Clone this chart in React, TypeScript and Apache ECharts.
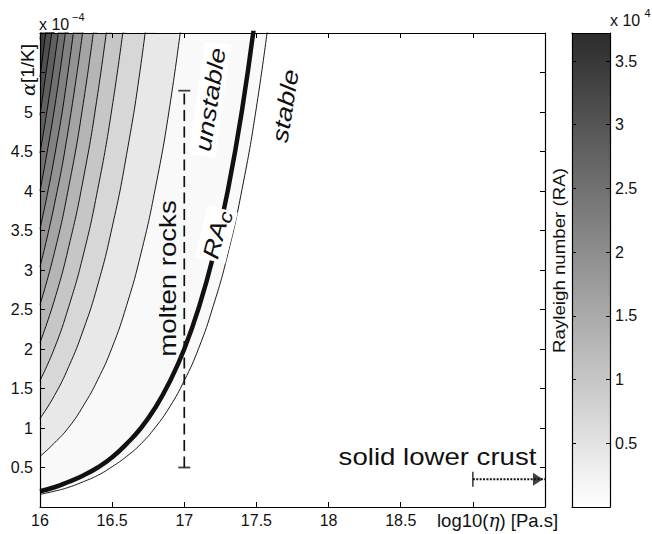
import React, { useEffect, useRef } from 'react';
import * as echarts from 'echarts';

// ---------- data ----------
// log10(viscosity) sample positions [Pa.s]
const logEta = [16.0, 16.1, 16.2, 16.3, 16.4, 16.5, 16.6, 16.7, 16.8, 16.9, 17.0, 17.1, 17.2, 17.3, 17.4, 17.5, 17.6];

// Rayleigh-number contour levels (x 10^4)
const raLevels = [0.1, 0.4, 0.7, 1.0, 1.3, 1.6, 1.9, 2.2, 2.5, 2.8, 3.1, 3.4, 3.7];

// thermal expansion alpha (x 10^-4) along each RA contour, at the logEta positions
const contour0 = [0.16, 0.20, 0.25, 0.32, 0.40, 0.51, 0.64, 0.80, 1.01, 1.27, 1.60, 2.01, 2.54, 3.19, 4.02, 5.06, 6.37];
const contour1 = [0.64, 0.81, 1.01, 1.28, 1.61, 2.02, 2.55, 3.21, 4.04, 5.08, 6.40];
const contour2 = [1.12, 1.41, 1.78, 2.24, 2.81, 3.54, 4.46, 5.61, 7.07];
const contour3 = [1.60, 2.01, 2.54, 3.19, 4.02, 5.06, 6.37];
const contour4 = [2.08, 2.62, 3.30, 4.15, 5.23, 6.58];
const contour5 = [2.56, 3.22, 4.06, 5.11, 6.43];
const contour6 = [3.04, 3.83, 4.82, 6.07];
const contour7 = [3.52, 4.43, 5.58, 7.02];
const contour8 = [4.00, 5.04, 6.34];
const contour9 = [4.48, 5.64, 7.10];
const contour10 = [4.96, 6.24];
const contour11 = [5.44, 6.85];
const contour12 = [5.92, 7.45];
const contours = [contour0, contour1, contour2, contour3, contour4, contour5, contour6, contour7, contour8, contour9, contour10, contour11, contour12];

// critical Rayleigh number curve RAc (alpha x 10^-4 at logEta positions)
const raCritical = [0.20, 0.25, 0.32, 0.40, 0.50, 0.63, 0.80, 1.00, 1.26, 1.59, 2.00, 2.52, 3.17, 3.99, 5.02, 6.32];

// "molten rocks" range bar and "solid lower crust" arrow
const moltenEta = 17;
const moltenAlpha = [0.5, 5.27];
const solidEta = [19.0, 19.5];
const solidAlpha = 0.35;

// axes
const etaMin = 16, etaMax = 19.5;
const alphaMin = 0, alphaMax = 6;
const colorbarMax = 3.72; // x 10^4
const colorbarTicks = [0.5, 1, 1.5, 2, 2.5, 3, 3.5];

// ---------- styles ----------
const FONT = '"Liberation Sans", Arial, Helvetica, sans-serif';
const INK = '#111';
const TOP_GRAY = 44;
function grayFor(v: number) {
  const g = Math.round(255 - (255 - TOP_GRAY) * v / colorbarMax);
  return `rgb(${g},${g},${g})`;
}
const deg = (d: number) => (d * Math.PI) / 180;

export default function App() {
  const ref = useRef<HTMLDivElement>(null);

  useEffect(() => {
    const chart = echarts.init(ref.current!, null, { renderer: 'svg' });

    const contourSeries = contours.map((alphas, k) => ({
      type: 'line',
      xAxisIndex: 0,
      yAxisIndex: 0,
      data: alphas.map((a, i) => [logEta[i], a]),
      smooth: 0.5,
      symbol: 'none',
      silent: true,
      lineStyle: { color: '#000', width: 0.9 },
      areaStyle: { color: grayFor(raLevels[k]), opacity: 1, origin: 'end' },
      z: 2,
    }));

    const tickStyle = { color: '#000', width: 1 };
    const lineStyle = { color: '#000', width: 1.2 };

    const option: any = {
      animation: false,
      backgroundColor: '#fff',
      grid: [
        { left: 40, top: 33, width: 505, height: 474, containLabel: false },
        { left: 572, top: 33, width: 38, height: 474, containLabel: false },
      ],
      xAxis: [
        {
          type: 'value', gridIndex: 0, position: 'bottom', min: etaMin, max: etaMax, interval: 0.5, z: 10,
          axisLine: { show: true, onZero: false, lineStyle },
          axisTick: { show: true, inside: true, length: 5, lineStyle: tickStyle },
          axisLabel: {
            show: true, fontSize: 16, fontFamily: FONT, color: INK, margin: 5,
            formatter: (v: number) => (v < 19 ? String(v) : ''),
          },
          splitLine: { show: false },
        },
        {
          type: 'value', gridIndex: 0, position: 'top', min: etaMin, max: etaMax, interval: 0.5, z: 10,
          axisLine: { show: true, onZero: false, lineStyle },
          axisTick: { show: true, inside: true, length: 5, lineStyle: tickStyle },
          axisLabel: { show: false },
          splitLine: { show: false },
        },
        {
          type: 'category', gridIndex: 1, position: 'bottom', data: ['RA'], boundaryGap: true, z: 10,
          axisLine: { show: true, onZero: false, lineStyle },
          axisTick: { show: false },
          axisLabel: { show: false },
          splitLine: { show: false },
        },
        {
          type: 'value', gridIndex: 1, position: 'top', min: 0, max: 1, z: 10,
          axisLine: { show: true, onZero: false, lineStyle },
          axisTick: { show: false },
          axisLabel: { show: false },
          splitLine: { show: false },
        },
      ],
      yAxis: [
        {
          type: 'value', gridIndex: 0, position: 'left', min: alphaMin, max: alphaMax, interval: 0.5, z: 10,
          axisLine: { show: true, onZero: false, lineStyle },
          axisTick: { show: true, inside: true, length: 5, lineStyle: tickStyle },
          axisLabel: {
            show: true, fontSize: 16, fontFamily: FONT, color: INK, margin: 7,
            formatter: (v: number) => (v > 0 && v <= 5 ? String(v) : ''),
          },
          splitLine: { show: false },
        },
        {
          type: 'value', gridIndex: 0, position: 'right', min: alphaMin, max: alphaMax, interval: 0.5, z: 10,
          axisLine: { show: true, onZero: false, lineStyle },
          axisTick: { show: true, inside: true, length: 5, lineStyle: tickStyle },
          axisLabel: { show: false },
          splitLine: { show: false },
        },
        {
          type: 'value', gridIndex: 1, position: 'right', min: 0, max: colorbarMax, interval: 0.5, z: 10,
          axisLine: { show: true, onZero: false, lineStyle },
          axisTick: { show: true, inside: true, length: 4, lineStyle: tickStyle },
          axisLabel: {
            show: true, fontSize: 16, fontFamily: FONT, color: INK, margin: 5,
            formatter: (v: number) => (colorbarTicks.indexOf(v) >= 0 ? String(v) : ''),
          },
          splitLine: { show: false },
        },
        {
          type: 'value', gridIndex: 1, position: 'left', min: 0, max: colorbarMax, interval: 0.5, z: 10,
          axisLine: { show: true, onZero: false, lineStyle },
          axisTick: { show: true, inside: true, length: 4, lineStyle: tickStyle },
          axisLabel: { show: false },
          splitLine: { show: false },
        },
      ],
      series: [
        ...contourSeries,
        {
          type: 'line', xAxisIndex: 0, yAxisIndex: 0, silent: true,
          data: raCritical.map((a, i) => [logEta[i], a]),
          smooth: 0.5, symbol: 'none',
          lineStyle: { color: '#111', width: 4.5 },
          z: 3,
        },
        {
          type: 'line', xAxisIndex: 0, yAxisIndex: 0, silent: true,
          data: moltenAlpha.map((a) => [moltenEta, a]),
          symbol: 'none',
          lineStyle: { color: '#111', width: 1.7, type: [11, 5.5] },
          z: 4,
        },
        {
          type: 'scatter', xAxisIndex: 0, yAxisIndex: 0, silent: true, clip: false,
          data: moltenAlpha.map((a) => [moltenEta, a]),
          symbol: 'rect', symbolSize: [12, 1.8],
          itemStyle: { color: '#111' },
          z: 4,
        },
        {
          type: 'line', xAxisIndex: 0, yAxisIndex: 0, silent: true,
          data: solidEta.map((e) => [e, solidAlpha]),
          symbol: 'none',
          lineStyle: { color: '#111', width: 2, type: [2, 1.4] },
          z: 4,
        },
        {
          type: 'scatter', xAxisIndex: 0, yAxisIndex: 0, silent: true, clip: false,
          data: [[solidEta[0], solidAlpha]],
          symbol: 'rect', symbolSize: [1.6, 15],
          itemStyle: { color: '#111' },
          z: 4,
        },
        {
          type: 'scatter', xAxisIndex: 0, yAxisIndex: 0, silent: true, clip: false,
          data: [[solidEta[1], solidAlpha]],
          symbol: 'triangle', symbolSize: [13, 10], symbolRotate: -90, symbolOffset: [-7, 0],
          itemStyle: { color: '#111' },
          z: 4,
        },
        {
          type: 'bar', xAxisIndex: 2, yAxisIndex: 2, silent: true,
          data: [colorbarMax],
          barWidth: '100%',
          itemStyle: {
            color: new echarts.graphic.LinearGradient(0, 0, 0, 1, [
              { offset: 0, color: grayFor(colorbarMax) },
              { offset: 1, color: grayFor(0) },
            ]),
          },
        },
      ],
      graphic: [
        // x 10^-4 (y axis exponent)
        { type: 'text', x: 39, y: 24.5, z: 100, style: { text: 'x 10', fontSize: 16, fontFamily: FONT, fill: INK, align: 'left', verticalAlign: 'middle' } },
        { type: 'text', x: 72, y: 16.5, z: 100, style: { text: '\u22124', fontSize: 11, fontFamily: FONT, fill: INK, align: 'left', verticalAlign: 'middle' } },
        // x 10^4 (colorbar exponent)
        { type: 'text', x: 610, y: 20.5, z: 100, style: { text: 'x 10', fontSize: 16, fontFamily: FONT, fill: INK, align: 'left', verticalAlign: 'middle' } },
        { type: 'text', x: 644.5, y: 12.8, z: 100, style: { text: '4', fontSize: 11, fontFamily: FONT, fill: INK, align: 'left', verticalAlign: 'middle' } },
        // y axis label
        {
          type: 'text', x: 27.5, y: 70, rotation: deg(90), z: 100,
          style: {
            text: '{a|\u03b1}[1/K]', fontSize: 19, fontFamily: FONT, fill: INK, align: 'center', verticalAlign: 'middle',
            rich: { a: { fontSize: 19, fontFamily: '"DejaVu Serif", serif', fontStyle: 'italic', fill: INK } },
          },
        },
        // x axis label
        {
          type: 'text', x: 437, y: 520.5, z: 100,
          style: {
            text: 'log10({a|\u03b7}) [Pa.s]', fontSize: 18.5, fontFamily: FONT, fill: INK, align: 'left', verticalAlign: 'middle',
            rich: { a: { fontSize: 18.5, fontFamily: '"DejaVu Serif", serif', fontStyle: 'italic', fill: INK } },
          },
        },
        // colorbar title
        {
          type: 'text', x: 559.5, y: 260.5, rotation: deg(90), scaleX: 1.1, z: 100,
          style: { text: 'Rayleigh number (RA)', fontSize: 17, fontFamily: FONT, fill: INK, align: 'center', verticalAlign: 'middle' },
        },
        // molten rocks
        {
          type: 'text', x: 167.5, y: 278.5, rotation: deg(90), scaleX: 1.2, z: 100,
          style: { text: 'molten rocks', fontSize: 23, fontFamily: FONT, fill: INK, align: 'center', verticalAlign: 'middle' },
        },
        // unstable
        {
          type: 'text', x: 210, y: 99.5, rotation: deg(81.6), scaleX: 1.2, z: 100,
          style: {
            text: 'unstable', fontSize: 23, fontStyle: 'italic', fontFamily: FONT, fill: INK, align: 'center', verticalAlign: 'middle',
            backgroundColor: '#fff', padding: [2, 4, 2, 4],
          },
        },
        // stable
        {
          type: 'text', x: 285, y: 106, rotation: deg(81), scaleX: 1.2, z: 100,
          style: { text: 'stable', fontSize: 23, fontStyle: 'italic', fontFamily: FONT, fill: INK, align: 'center', verticalAlign: 'middle' },
        },
        // RAc
        {
          type: 'group', x: 216, y: 234, rotation: deg(76), z: 100,
          children: [
            { type: 'rect', shape: { x: -27, y: -15, width: 53, height: 31 }, style: { fill: '#fff' }, z: 100 },
            {
              type: 'text', x: -25, y: 0, scaleX: 1.2, z: 101,
              style: { text: 'RA', fontSize: 23, fontStyle: 'italic', fontFamily: FONT, fill: INK, align: 'left', verticalAlign: 'middle' },
            },
            {
              type: 'text', x: 13, y: 5, scaleX: 1.2, z: 101,
              style: { text: 'c', fontSize: 19, fontStyle: 'italic', fontFamily: FONT, fill: INK, align: 'left', verticalAlign: 'middle' },
            },
          ],
        },
        // solid lower crust
        {
          type: 'text', x: 437.5, y: 457, scaleX: 1.2, z: 100,
          style: { text: 'solid lower crust', fontSize: 23, fontFamily: FONT, fill: INK, align: 'center', verticalAlign: 'middle' },
        },
      ],
    };

    chart.setOption(option);
    return () => chart.dispose();
  }, []);

  return (
    <div
      ref={ref}
      style={{ position: 'absolute', left: 0, top: 0, width: 652, height: 534, background: '#fff' }}
    />
  );
}
